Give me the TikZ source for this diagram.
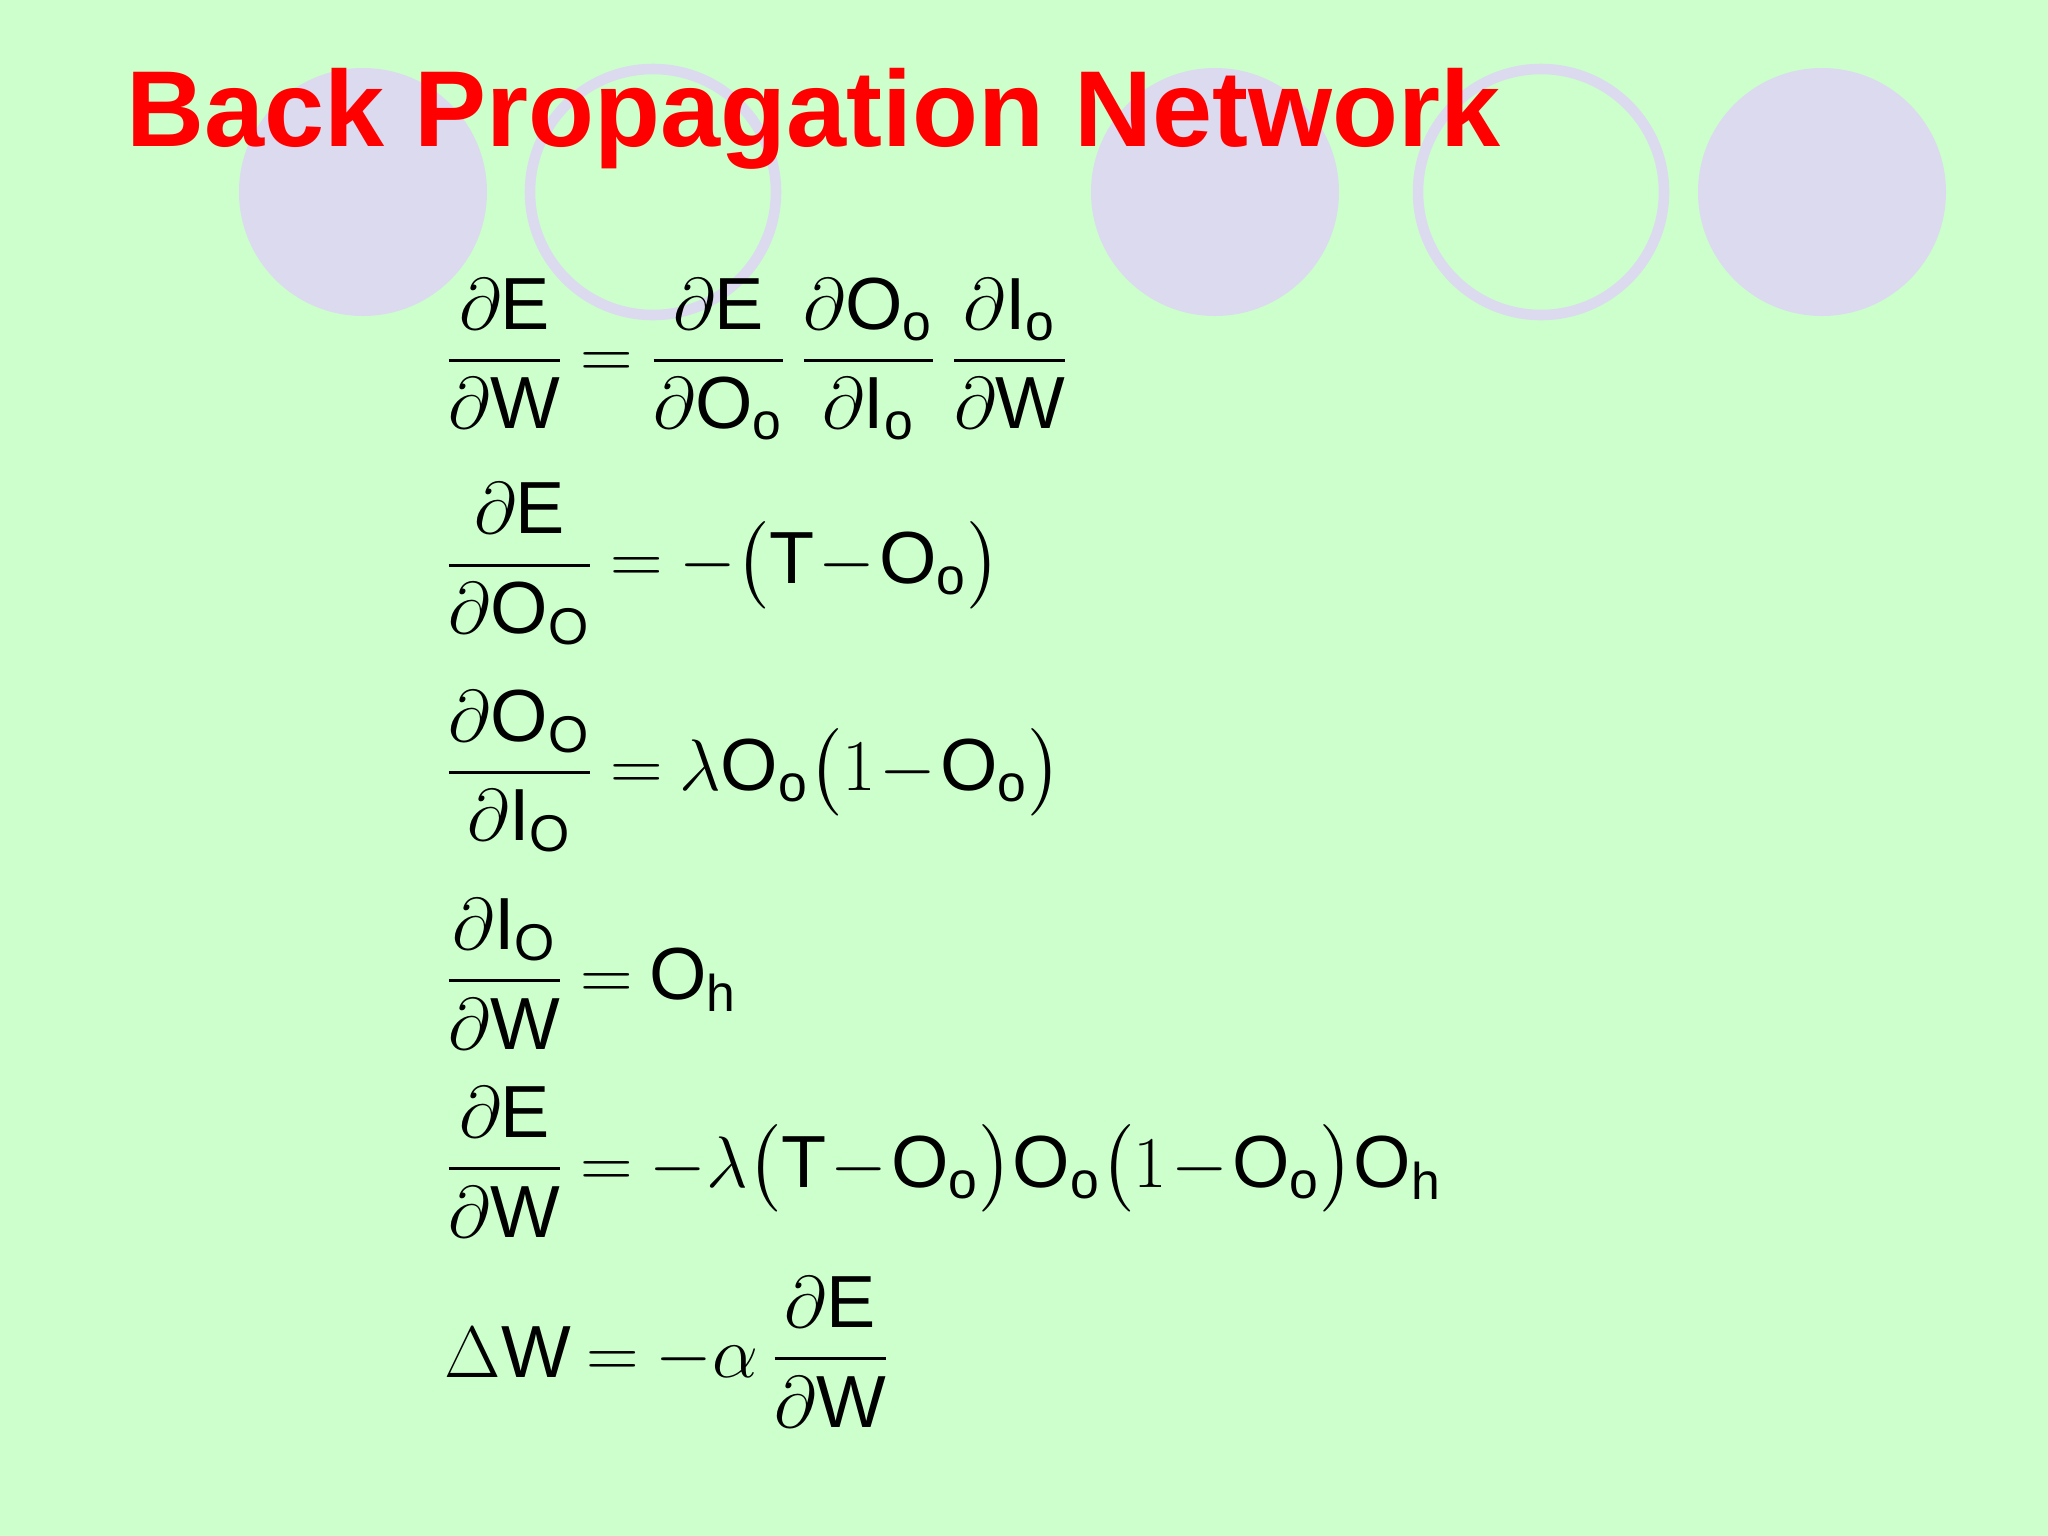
\documentclass[tikz,border=0pt]{standalone}
\usepackage{amsmath}
\usepackage{fontspec}
\setsansfont{Liberation Sans}
\newfontfamily\titlefont{Liberation Sans}
\definecolor{bg}{HTML}{CCFFCC}
\definecolor{lav}{HTML}{DCDAEE}
\definecolor{ttl}{HTML}{FF0000}
\newcommand{\s}[1]{\mathsf{#1}}
\newcommand{\pd}{\partial}
\thickmuskip=4mu
\medmuskip=1mu
\begin{document}
\begin{tikzpicture}[x=0.01cm,y=-0.01cm,
  eq/.style={anchor=west,inner sep=0pt,font=\fontsize{21}{25}\selectfont},
  fill circ/.style={fill=lav,draw=none},
  ring/.style={draw=lav,line width=3pt}]
\fill[bg] (0,0) rectangle (2048,1536);
\useasboundingbox (0,0) rectangle (2048,1536);
\fill[fill circ] (363,192) circle (124);
\draw[ring] (653,192) circle (123);
\fill[fill circ] (1215,192) circle (124);
\draw[ring] (1541,192) circle (123);
\fill[fill circ] (1822,192) circle (124);
\node[anchor=base west,inner sep=0pt,text=ttl,font=\titlefont\bfseries\fontsize{30.7}{36}\selectfont] (title) at (126,146) {Back Propagation Network};
\node[eq] (e1) at (444,359) {$\displaystyle \frac{\pd \s{E}}{\pd \s{W}} = \frac{\pd \s{E}}{\pd \s{O}_{\s{o}}}\,\frac{\pd \s{O}_{\s{o}}}{\pd \s{I}_{\s{o}}}\,\frac{\pd \s{I}_{\s{o}}}{\pd \s{W}}$};
\node[eq] (e2) at (444,564) {$\displaystyle \frac{\pd \s{E}}{\pd \s{O}_{\s{O}}} = -\bigl(\s{T}-\s{O}_{\s{o}}\bigr)$};
\node[eq] (e3) at (444,771) {$\displaystyle \frac{\pd \s{O}_{\s{O}}}{\pd \s{I}_{\s{O}}} = \lambda\s{O}_{\s{o}}\bigl(1-\s{O}_{\s{o}}\bigr)$};
\node[eq] (e4) at (444,974) {$\displaystyle \frac{\pd \s{I}_{\s{O}}}{\pd \s{W}} = \s{O}_{\s{h}}$};
\node[eq] (e5) at (444,1162) {$\displaystyle \frac{\pd \s{E}}{\pd \s{W}} = -\lambda\bigl(\s{T}-\s{O}_{\s{o}}\bigr)\s{O}_{\s{o}}\bigl(1-\s{O}_{\s{o}}\bigr)\s{O}_{\s{h}}$};
\node[eq] (e6) at (444,1352) {$\displaystyle \Delta\s{W} = -\alpha\,\frac{\pd \s{E}}{\pd \s{W}}$};
\end{tikzpicture}
\end{document}
